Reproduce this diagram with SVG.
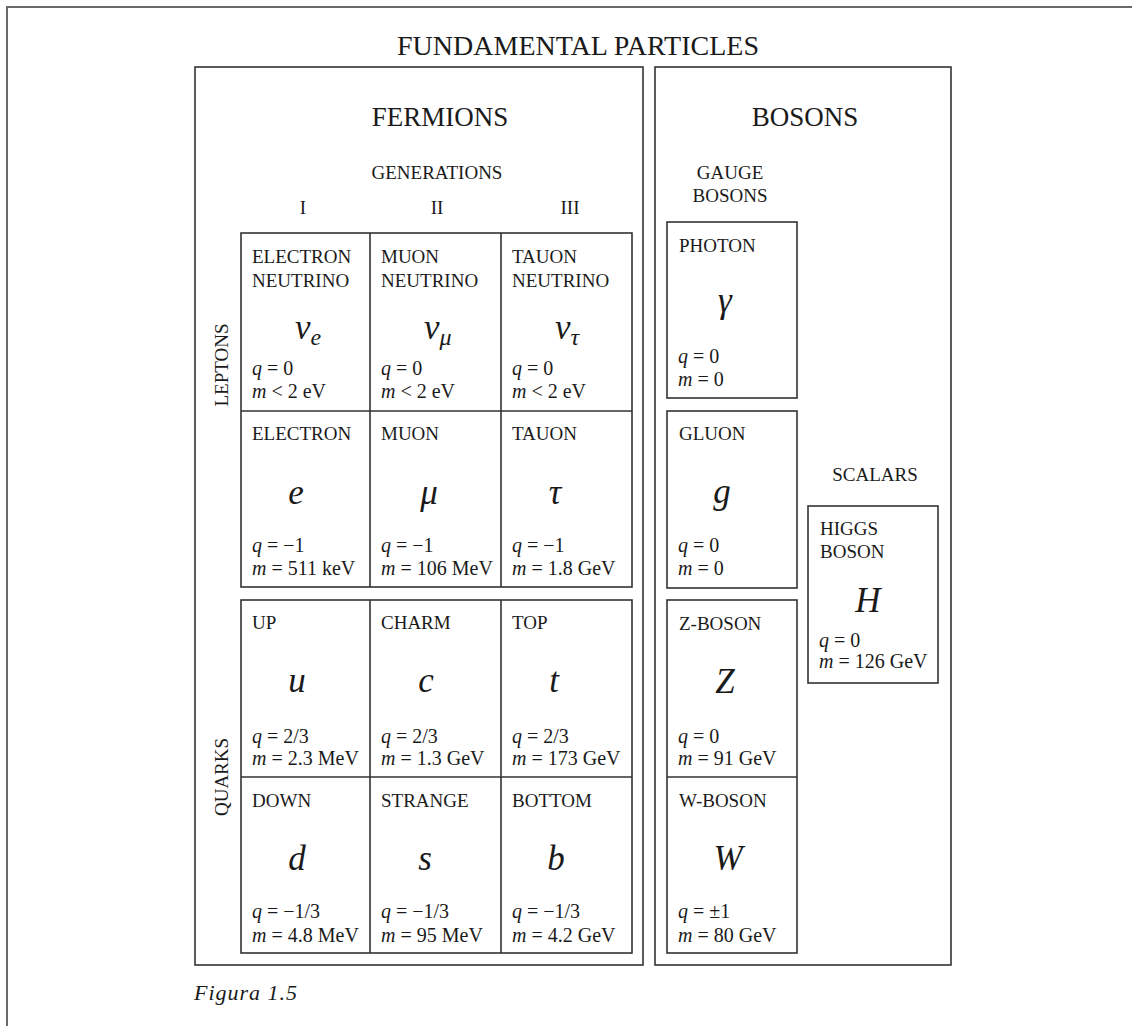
<svg xmlns="http://www.w3.org/2000/svg" width="1132" height="1026" viewBox="0 0 1132 1026">
<style>
text{font-family:"Liberation Serif","DejaVu Serif",serif;fill:#1a1a1a}
.frame{stroke:#6a6a6a;stroke-width:2;fill:none}
.box{stroke:#333;stroke-width:1.6;fill:none}
.title{font-size:28px;text-anchor:middle}
.head{font-size:27px;text-anchor:middle}
.sub{font-size:19px;text-anchor:middle}
.lbl{font-size:19px}
.val{font-size:20px}
.sym{font-size:35px;font-style:italic;text-anchor:middle}
.symL{font-size:35px;font-style:italic}
.i{font-style:italic}
.cap{font-size:22px;font-style:italic}
</style>
<rect width="1132" height="1026" fill="#fff"/>
<path class="frame" d="M7,1026 V7 H1132"/>
<text class="title" x="578" y="55">FUNDAMENTAL PARTICLES</text>

<g id="fermions">
<rect class="box" x="195" y="67" width="448" height="898"/>
<text class="head" x="440" y="126">FERMIONS</text>
<text class="sub" x="437" y="179">GENERATIONS</text>
<text class="sub" x="303" y="214">I</text>
<text class="sub" x="437" y="214">II</text>
<text class="sub" x="570" y="214">III</text>
<text class="lbl" transform="translate(228,365) rotate(-90)" text-anchor="middle">LEPTONS</text>
<text class="lbl" transform="translate(228,777) rotate(-90)" text-anchor="middle">QUARKS</text>
</g>

<g id="leptons">
<rect class="box" x="241" y="233" width="391" height="354"/>
<path class="box" d="M370,233 V587 M501,233 V587 M241,411 H632"/>
</g>
<g id="quarks">
<rect class="box" x="241" y="600" width="391" height="353"/>
<path class="box" d="M370,600 V953 M501,600 V953 M241,777 H632"/>
</g>

<g id="electron-neutrino">
<text class="lbl" x="252" y="263">ELECTRON</text><text class="lbl" x="252" y="287">NEUTRINO</text>
<text class="symL" x="295" y="339">ν<tspan font-size="24" dy="6">e</tspan></text>
<text class="val" x="252" y="375"><tspan class="i">q</tspan> = 0</text>
<text class="val" x="252" y="398"><tspan class="i">m</tspan> &lt; 2 eV</text>
</g>
<g id="muon-neutrino">
<text class="lbl" x="381" y="263">MUON</text><text class="lbl" x="381" y="287">NEUTRINO</text>
<text class="symL" x="424" y="339">ν<tspan font-size="24" dy="6">μ</tspan></text>
<text class="val" x="381" y="375"><tspan class="i">q</tspan> = 0</text>
<text class="val" x="381" y="398"><tspan class="i">m</tspan> &lt; 2 eV</text>
</g>
<g id="tauon-neutrino">
<text class="lbl" x="512" y="263">TAUON</text><text class="lbl" x="512" y="287">NEUTRINO</text>
<text class="symL" x="555" y="339">ν<tspan font-size="24" dy="6">τ</tspan></text>
<text class="val" x="512" y="375"><tspan class="i">q</tspan> = 0</text>
<text class="val" x="512" y="398"><tspan class="i">m</tspan> &lt; 2 eV</text>
</g>

<g id="electron">
<text class="lbl" x="252" y="440">ELECTRON</text>
<text class="sym" x="296" y="504">e</text>
<text class="val" x="252" y="552"><tspan class="i">q</tspan> = −1</text>
<text class="val" x="252" y="575"><tspan class="i">m</tspan> = 511 keV</text>
</g>
<g id="muon">
<text class="lbl" x="381" y="440">MUON</text>
<text class="sym" x="429" y="504">μ</text>
<text class="val" x="381" y="552"><tspan class="i">q</tspan> = −1</text>
<text class="val" x="381" y="575"><tspan class="i">m</tspan> = 106 MeV</text>
</g>
<g id="tauon">
<text class="lbl" x="512" y="440">TAUON</text>
<text class="sym" x="555" y="504">τ</text>
<text class="val" x="512" y="552"><tspan class="i">q</tspan> = −1</text>
<text class="val" x="512" y="575"><tspan class="i">m</tspan> = 1.8 GeV</text>
</g>

<g id="up">
<text class="lbl" x="252" y="629">UP</text>
<text class="sym" x="297" y="692">u</text>
<text class="val" x="252" y="743"><tspan class="i">q</tspan> = 2/3</text>
<text class="val" x="252" y="765"><tspan class="i">m</tspan> = 2.3 MeV</text>
</g>
<g id="charm">
<text class="lbl" x="381" y="629">CHARM</text>
<text class="sym" x="426" y="692">c</text>
<text class="val" x="381" y="743"><tspan class="i">q</tspan> = 2/3</text>
<text class="val" x="381" y="765"><tspan class="i">m</tspan> = 1.3 GeV</text>
</g>
<g id="top">
<text class="lbl" x="512" y="629">TOP</text>
<text class="sym" x="554" y="692">t</text>
<text class="val" x="512" y="743"><tspan class="i">q</tspan> = 2/3</text>
<text class="val" x="512" y="765"><tspan class="i">m</tspan> = 173 GeV</text>
</g>

<g id="down">
<text class="lbl" x="252" y="807">DOWN</text>
<text class="sym" x="297" y="870">d</text>
<text class="val" x="252" y="918"><tspan class="i">q</tspan> = −1/3</text>
<text class="val" x="252" y="942"><tspan class="i">m</tspan> = 4.8 MeV</text>
</g>
<g id="strange">
<text class="lbl" x="381" y="807">STRANGE</text>
<text class="sym" x="425" y="870">s</text>
<text class="val" x="381" y="918"><tspan class="i">q</tspan> = −1/3</text>
<text class="val" x="381" y="942"><tspan class="i">m</tspan> = 95 MeV</text>
</g>
<g id="bottom">
<text class="lbl" x="512" y="807">BOTTOM</text>
<text class="sym" x="556" y="870">b</text>
<text class="val" x="512" y="918"><tspan class="i">q</tspan> = −1/3</text>
<text class="val" x="512" y="942"><tspan class="i">m</tspan> = 4.2 GeV</text>
</g>

<g id="bosons">
<rect class="box" x="655" y="67" width="296" height="898"/>
<text class="head" x="805" y="126">BOSONS</text>
<text class="sub" x="730" y="179">GAUGE</text>
<text class="sub" x="730" y="202">BOSONS</text>
<text class="sub" x="875" y="481">SCALARS</text>
</g>

<g id="photon">
<rect class="box" x="667" y="222" width="130" height="176"/>
<text class="lbl" x="679" y="252">PHOTON</text>
<text class="sym" x="725" y="312">γ</text>
<text class="val" x="678" y="363"><tspan class="i">q</tspan> = 0</text>
<text class="val" x="678" y="386"><tspan class="i">m</tspan> = 0</text>
</g>
<g id="gluon">
<rect class="box" x="667" y="411" width="130" height="177"/>
<text class="lbl" x="679" y="440">GLUON</text>
<text class="sym" x="722" y="503">g</text>
<text class="val" x="678" y="552"><tspan class="i">q</tspan> = 0</text>
<text class="val" x="678" y="575"><tspan class="i">m</tspan> = 0</text>
</g>
<g id="z-w-bosons">
<rect class="box" x="667" y="600" width="130" height="353"/>
<path class="box" d="M667,777 H797"/>
</g>
<g id="z-boson">
<text class="lbl" x="679" y="630">Z-BOSON</text>
<text class="sym" x="725" y="693">Z</text>
<text class="val" x="678" y="743"><tspan class="i">q</tspan> = 0</text>
<text class="val" x="678" y="765"><tspan class="i">m</tspan> = 91 GeV</text>
</g>
<g id="w-boson">
<text class="lbl" x="679" y="807">W-BOSON</text>
<text class="sym" x="728" y="870">W</text>
<text class="val" x="678" y="918"><tspan class="i">q</tspan> = ±1</text>
<text class="val" x="678" y="942"><tspan class="i">m</tspan> = 80 GeV</text>
</g>
<g id="higgs">
<rect class="box" x="808" y="506" width="130" height="177"/>
<text class="lbl" x="820" y="535">HIGGS</text>
<text class="lbl" x="820" y="558">BOSON</text>
<text class="sym" x="868" y="612">H</text>
<text class="val" x="819" y="647"><tspan class="i">q</tspan> = 0</text>
<text class="val" x="819" y="668"><tspan class="i">m</tspan> = 126 GeV</text>
</g>

<g id="connectors"/>
<text class="cap" x="194" y="1000" textLength="103">Figura 1.5</text>
</svg>
